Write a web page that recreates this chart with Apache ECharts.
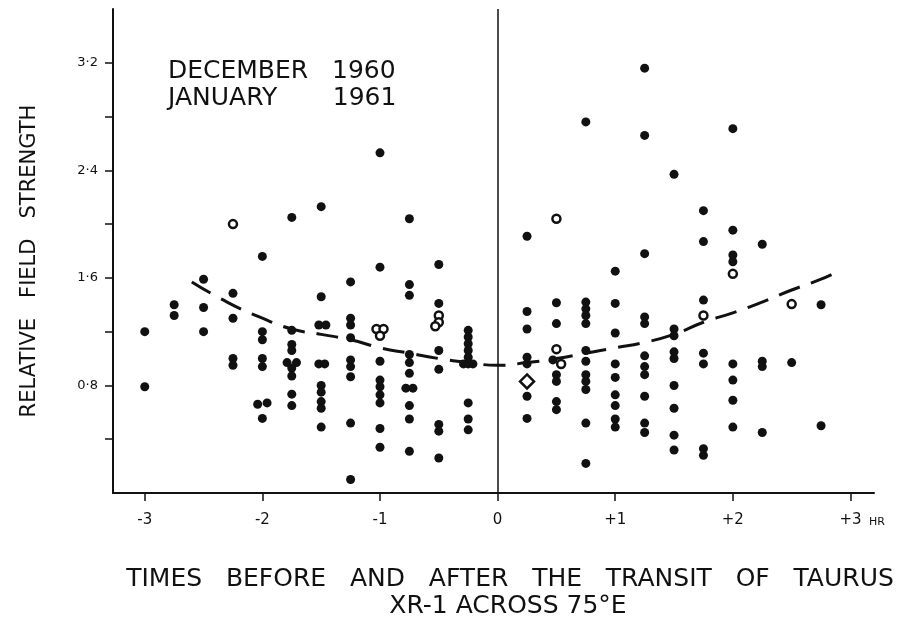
<!DOCTYPE html>
<html>
<head>
<meta charset="utf-8">
<script src="https://cdn.jsdelivr.net/npm/echarts@6/dist/echarts.min.js"></script>
<style>
  html, body { margin: 0; padding: 0; background: #fff; }
  #chart { width: 904px; height: 627px; }
</style>
</head>
<body>
<div id="chart"></div>
<script>
// hours before / after transit, one tick per hour
const hourTicks = [-3, -2, -1, 0, 1, 2, 3];
const yTickValues = [0.4, 0.8, 1.2, 1.6, 2.0, 2.4, 2.8, 3.2];
const yLabelValues = [0.8, 1.6, 2.4, 3.2];
const yLabelText = ['0·8', '1·6', '2·4', '3·2'];

// filled dots [time (hr), relative field strength]
const solidPoints = [
  [-3, 1.20], [-3, 0.79],
  [-2.75, 1.40], [-2.75, 1.32],
  [-2.5, 1.59], [-2.5, 1.38], [-2.5, 1.20],
  [-2.25, 1.485], [-2.25, 1.30], [-2.25, 1.00], [-2.25, 0.95],
  [-2, 1.76], [-2, 1.20], [-2, 1.14], [-2, 1.00], [-2, 0.94], [-2.04, 0.66], [-1.96, 0.67], [-2, 0.555],
  [-1.75, 2.05], [-1.75, 1.21], [-1.75, 1.105], [-1.75, 1.06], [-1.79, 0.97], [-1.71, 0.97], [-1.75, 0.93], [-1.75, 0.87], [-1.75, 0.735], [-1.75, 0.65],
  [-1.5, 2.13], [-1.5, 1.46], [-1.52, 1.25], [-1.46, 1.25], [-1.52, 0.96], [-1.47, 0.96], [-1.5, 0.80], [-1.5, 0.75], [-1.5, 0.68], [-1.5, 0.63], [-1.5, 0.49],
  [-1.25, 1.57], [-1.25, 1.30], [-1.25, 1.25], [-1.25, 1.155], [-1.25, 0.99], [-1.25, 0.94], [-1.25, 0.865], [-1.25, 0.52], [-1.25, 0.10],
  [-1, 2.53], [-1, 1.68], [-1, 0.98], [-1, 0.84], [-1, 0.79], [-1, 0.73], [-1, 0.67], [-1, 0.48], [-1, 0.34],
  [-0.75, 2.04], [-0.75, 1.55], [-0.75, 1.47], [-0.75, 1.03], [-0.75, 0.97], [-0.75, 0.89], [-0.78, 0.78], [-0.72, 0.78], [-0.75, 0.65], [-0.75, 0.55], [-0.75, 0.31],
  [-0.5, 1.70], [-0.5, 1.41], [-0.5, 1.06], [-0.5, 0.92], [-0.5, 0.51], [-0.5, 0.46], [-0.5, 0.26],
  [-0.25, 1.21], [-0.25, 1.16], [-0.25, 1.11], [-0.25, 1.06], [-0.25, 1.01], [-0.29, 0.96], [-0.25, 0.96], [-0.21, 0.96], [-0.25, 0.67], [-0.25, 0.55], [-0.25, 0.47],
  [0.25, 1.91], [0.25, 1.35], [0.25, 1.22], [0.25, 1.01], [0.25, 0.96], [0.25, 0.72], [0.25, 0.555],
  [0.5, 1.415], [0.5, 1.26], [0.47, 0.99], [0.5, 0.88], [0.5, 0.83], [0.5, 0.68], [0.5, 0.62],
  [0.75, 2.76], [0.75, 1.42], [0.75, 1.37], [0.75, 1.32], [0.75, 1.26], [0.75, 1.06], [0.75, 0.98], [0.75, 0.88], [0.75, 0.83], [0.75, 0.77], [0.75, 0.52], [0.75, 0.22],
  [1, 1.65], [1, 1.41], [1, 1.19], [1, 0.96], [1, 0.86], [1, 0.73], [1, 0.65], [1, 0.55], [1, 0.49],
  [1.25, 3.16], [1.25, 2.66], [1.25, 1.78], [1.25, 1.31], [1.25, 1.26], [1.25, 1.02], [1.25, 0.94], [1.25, 0.88], [1.25, 0.72], [1.25, 0.52], [1.25, 0.45],
  [1.5, 2.37], [1.5, 1.22], [1.5, 1.17], [1.5, 1.05], [1.5, 1.00], [1.5, 0.80], [1.5, 0.63], [1.5, 0.43], [1.5, 0.32],
  [1.75, 2.10], [1.75, 1.87], [1.75, 1.435], [1.75, 1.04], [1.75, 0.96], [1.75, 0.33], [1.75, 0.28],
  [2, 2.71], [2, 1.955], [2, 1.77], [2, 1.72], [2, 0.96], [2, 0.84], [2, 0.69], [2, 0.49],
  [2.25, 1.85], [2.25, 0.98], [2.25, 0.94], [2.25, 0.45],
  [2.5, 0.97],
  [2.75, 1.40], [2.75, 0.50]
];

// open circles
const openPoints = [
  [-2.25, 2.00],
  [-1.03, 1.22], [-0.97, 1.22], [-1, 1.17],
  [-0.5, 1.32], [-0.5, 1.27], [-0.53, 1.24],
  [0.5, 2.04], [0.5, 1.07], [0.54, 0.96],
  [1.75, 1.32],
  [2, 1.63],
  [2.5, 1.405]
];

// open diamond
const diamondPoints = [[0.25, 0.83]];

// dashed trend curve
const trendTimes = [-2.6, -2.3, -2.0, -1.75, -1.5, -1.25, -1.0, -0.75, -0.5, -0.25, 0, 0.25, 0.5, 0.75, 1.0, 1.25, 1.5, 1.75, 2.0, 2.25, 2.5, 2.75, 2.92];
const trendValues = [1.57, 1.42, 1.30, 1.22, 1.18, 1.14, 1.08, 1.04, 1.00, 0.97, 0.95, 0.97, 1.00, 1.04, 1.08, 1.12, 1.18, 1.27, 1.34, 1.42, 1.51, 1.59, 1.66];

const ink = '#111';
const font = 'DejaVu Sans';

const chart = echarts.init(document.getElementById('chart'));

const option = {
  animation: false,
  backgroundColor: '#fff',
  grid: { left: 113, right: 30, top: 9, bottom: 134 },
  xAxis: {
    type: 'value',
    min: -3.27,
    max: 3.2,
    splitLine: { show: false },
    axisLine: { show: true, onZero: false, lineStyle: { color: ink, width: 2 } },
    axisTick: { show: true, customValues: hourTicks, length: 8, lineStyle: { color: ink, width: 1.5 } },
    axisLabel: {
      customValues: hourTicks,
      margin: 20,
      color: ink,
      fontFamily: font,
      fontSize: 15,
      formatter: v => (v > 0 ? '+' + v : String(v))
    }
  },
  yAxis: {
    type: 'value',
    min: 0,
    max: 3.6,
    splitLine: { show: false },
    axisLine: { show: true, onZero: false, lineStyle: { color: ink, width: 2 } },
    axisTick: { show: true, customValues: yTickValues, length: 8, lineStyle: { color: ink, width: 1.5 } },
    axisLabel: {
      customValues: yLabelValues,
      margin: 15,
      color: ink,
      fontFamily: font,
      fontSize: 13,
      formatter: v => {
        const i = yLabelValues.findIndex(t => Math.abs(t - v) < 1e-6);
        return i >= 0 ? yLabelText[i] : '';
      }
    }
  },
  graphic: [
    {
      type: 'text', left: 168, top: 59,
      style: { text: 'DECEMBER   1960', fill: ink, font: '25px "DejaVu Sans"' }
    },
    {
      type: 'text', left: 168, top: 86,
      style: { text: 'JANUARY       1961', fill: ink, font: '25px "DejaVu Sans"' }
    },
    {
      type: 'text', x: 30, y: 261, rotation: Math.PI / 2,
      style: {
        text: 'RELATIVE   FIELD   STRENGTH', fill: ink,
        font: '21px "DejaVu Sans"', align: 'center', verticalAlign: 'middle'
      }
    },
    {
      type: 'text', x: 869, y: 522,
      style: { text: 'HR', fill: ink, font: '11px "DejaVu Sans"', align: 'left', verticalAlign: 'middle' }
    },
    {
      type: 'text', x: 510, y: 579,
      style: {
        text: 'TIMES   BEFORE   AND   AFTER   THE   TRANSIT   OF   TAURUS', fill: ink,
        font: '25px "DejaVu Sans"', align: 'center', verticalAlign: 'middle'
      }
    },
    {
      type: 'text', x: 508, y: 606,
      style: {
        text: 'XR-1 ACROSS 75°E', fill: ink,
        font: '25px "DejaVu Sans"', align: 'center', verticalAlign: 'middle'
      }
    }
  ],
  series: [
    {
      name: 'trend',
      type: 'line',
      data: trendTimes.map((t, i) => [t, trendValues[i]]),
      smooth: true,
      symbol: 'none',
      lineStyle: { color: ink, width: 3, type: [22, 12] },
      z: 3,
      markLine: {
        silent: true,
        symbol: ['none', 'none'],
        label: { show: false },
        lineStyle: { color: ink, width: 1.5, type: 'solid' },
        data: [{ xAxis: 0 }]
      }
    },
    {
      name: 'solid',
      type: 'scatter',
      data: solidPoints,
      symbol: 'circle',
      symbolSize: 9,
      itemStyle: { color: ink, opacity: 1 },
      z: 4
    },
    {
      name: 'open',
      type: 'scatter',
      data: openPoints,
      symbol: 'circle',
      symbolSize: 8,
      itemStyle: { color: '#fff', borderColor: ink, borderWidth: 2.5, opacity: 1 },
      z: 5
    },
    {
      name: 'diamond',
      type: 'scatter',
      data: diamondPoints,
      symbol: 'diamond',
      symbolSize: 14,
      itemStyle: { color: '#fff', borderColor: ink, borderWidth: 2.5, opacity: 1 },
      z: 5
    }
  ]
};

chart.setOption(option);
</script>
</body>
</html>
